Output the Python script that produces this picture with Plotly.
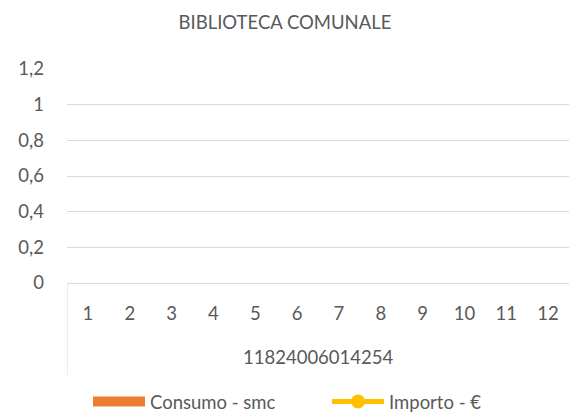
import plotly.graph_objects as go

# Monthly gas data for the library meter (no readings recorded yet)
meter_id = "11824006014254"
months = [str(m) for m in range(1, 13)]
consumo_smc = [None] * 12
importo_eur = [None] * 12
y_ticks = [0, 0.2, 0.4, 0.6, 0.8, 1, 1.2]
y_tick_text = ["0", "0,2", "0,4", "0,6", "0,8", "1", "1,2"]

FONT = "Lato"
GREY = "#595959"
AXIS_GREY = "#D9D9D9"
FS = 18.5
PLOT_W = 570 - 67 - 1
PLOT_H = 414 - 69 - 131

fig = go.Figure()
fig.add_trace(go.Bar(
    x=months, y=consumo_smc, name="Consumo - smc",
    marker_color="#ED7D31", showlegend=False,
))
# legend swatch for the bar series
fig.add_trace(go.Scatter(
    x=months, y=consumo_smc, name="Consumo - smc", mode="lines",
    line=dict(color="#ED7D31", width=14),
))
fig.add_trace(go.Scatter(
    x=months, y=importo_eur, name="Importo - €", mode="lines+markers",
    line=dict(color="#FFC000", width=5),
    marker=dict(color="#FFC000", size=14),
))

# group label under the month labels, with its left divider
fig.add_annotation(
    text=meter_id, xref="paper", yref="paper", x=0.5, y=-74 / PLOT_H,
    xanchor="center", yanchor="middle", showarrow=False,
    font=dict(family=FONT, size=FS, color=GREY),
)
fig.add_shape(
    type="line", xref="x", yref="paper", x0=-0.5, x1=-0.5,
    y0=0, y1=-92 / PLOT_H, line=dict(color=AXIS_GREY, width=1),
)

fig.update_layout(
    width=570, height=414,
    margin=dict(l=67, r=1, t=69, b=131, autoexpand=False),
    paper_bgcolor="white", plot_bgcolor="white",
    font=dict(family=FONT, size=FS, color=GREY),
    title=dict(text="BIBLIOTECA COMUNALE", x=0.5, xanchor="center",
               y=1 - 23 / 414, yanchor="middle",
               font=dict(family=FONT, size=FS, color=GREY)),
    legend=dict(orientation="h", x=(88 - 67) / PLOT_W, xanchor="left",
                y=-119 / PLOT_H, yanchor="middle", itemwidth=52,
                entrywidth=172, entrywidthmode="pixels",
                font=dict(family=FONT, size=FS, color=GREY)),
    showlegend=True,
)
fig.update_yaxes(
    range=[0, 1.2], tickvals=y_ticks, ticktext=y_tick_text,
    showgrid=True, gridcolor=AXIS_GREY, gridwidth=1, automargin=False,
    zeroline=False, showline=False, ticks="", ticklabelstandoff=22,
    tickfont=dict(family=FONT, size=FS, color=GREY),
)
fig.update_xaxes(
    type="category", range=[-0.5, 11.5], automargin=False,
    showline=True, linecolor=AXIS_GREY, linewidth=1,
    ticks="", ticklabelstandoff=14,
    tickfont=dict(family=FONT, size=FS, color=GREY),
)

fig.write_html("out.html")
